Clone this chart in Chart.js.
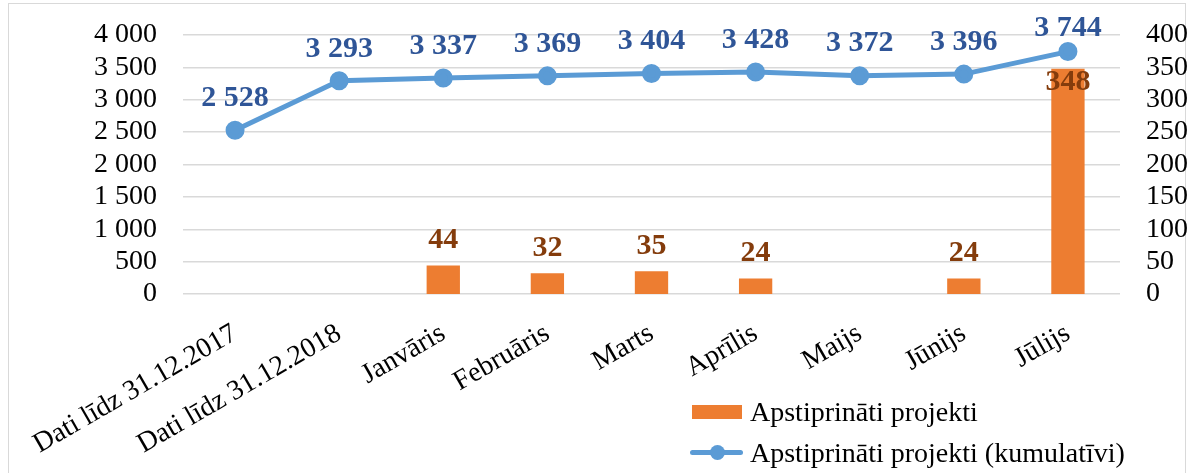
<!DOCTYPE html>
<html>
<head>
<meta charset="utf-8">
<script src="https://cdn.jsdelivr.net/npm/chart.js@4/dist/chart.umd.min.js"></script>
<style>
  html, body { margin: 0; padding: 0; background: #fff; }
  body { width: 1194px; height: 473px; position: relative; overflow: hidden; font-family: "Liberation Serif", "Times New Roman", serif; }
  #frame { position: absolute; left: 8px; top: 3px; width: 1176px; height: 490px; border: 1.5px solid #d9d9d9; }
  #wrap { position: absolute; left: 0; top: 0; width: 1194px; height: 473px; }
  .leg { position: absolute; font-size: 28px; line-height: 32px; color: #000; white-space: nowrap; }
  .sw-bar { position: absolute; left: 692px; top: 405px; width: 50px; height: 14px; background: #ED7D31; }
  .sw-line { position: absolute; left: 690px; top: 450px; width: 53px; height: 5px; border-radius: 3px; background: #5B9BD5; }
  .sw-dot { position: absolute; left: 710px; top: 445px; width: 15px; height: 15px; border-radius: 50%; background: #5B9BD5; }
</style>
</head>
<body>
<div id="frame"></div>
<div id="wrap"><canvas id="combochart"></canvas></div>
<div class="sw-bar"></div>
<div class="leg" style="left:750px; top:396px;">Apstiprināti projekti</div>
<div class="sw-line"></div>
<div class="sw-dot"></div>
<div class="leg" style="left:750px; top:437px;">Apstiprināti projekti (kumulatīvi)</div>
<script>
(function () {
 "use strict";

	/*----------------------------------------*/
	/*  data
	/*----------------------------------------*/
	var months = ["Dati līdz 31.12.2017", "Dati līdz 31.12.2018", "Janvāris", "Februāris",
		"Marts", "Aprīlis", "Maijs", "Jūnijs", "Jūlijs"];
	var approved = [null, null, 44, 32, 35, 24, -2, 24, 348];
	var cumulative = [2528, 3293, 3337, 3369, 3404, 3428, 3372, 3396, 3744];
	var leftTicks = [0, 500, 1000, 1500, 2000, 2500, 3000, 3500, 4000];
	var rightTicks = [0, 50, 100, 150, 200, 250, 300, 350, 400];

	function fmt(v) {
		return String(v).replace(/\B(?=(\d{3})+(?!\d))/g, ' ');
	}

	Chart.defaults.font.family = '"Liberation Serif", "Times New Roman", serif';
	Chart.defaults.font.size = 28;
	Chart.defaults.color = '#000';

	/*----------------------------------------*/
	/*  value labels
	/*----------------------------------------*/
	var valueLabels = {
		id: 'valueLabels',
		afterDatasetsDraw: function (chart) {
			var ctx = chart.ctx;
			var barMeta = chart.getDatasetMeta(0);
			var lineMeta = chart.getDatasetMeta(1);
			ctx.save();
			ctx.font = 'bold 30px "Liberation Serif", "Times New Roman", serif';
			ctx.textAlign = 'center';
			ctx.textBaseline = 'middle';
			barMeta.data.forEach(function (bar, i) {
				var v = approved[i];
				if (v == null || v <= 0) return;
				var y = bar.y - 25;
				var pt = lineMeta.data[i];
				// put it inside the bar if it would sit on the line point
				if (Math.abs(y - pt.y) < 22) y = bar.y + 14;
				ctx.fillStyle = '#843C0C';
				ctx.fillText(fmt(v), bar.x, y);
			});
			lineMeta.data.forEach(function (pt, i) {
				var y = Math.max(pt.y - 32, 28);
				ctx.fillStyle = '#2F5597';
				ctx.fillText(fmt(cumulative[i]), pt.x, y);
			});
			ctx.restore();
		}
	};

	/*----------------------------------------*/
	/*  combo chart
	/*----------------------------------------*/
	var ctx = document.getElementById("combochart");
	var combochart = new Chart(ctx, {
		data: {
			labels: months,
			datasets: [{
				type: 'bar',
				label: 'Apstiprināti projekti',
				data: approved,
				yAxisID: 'y1',
				backgroundColor: '#ED7D31',
				barPercentage: 0.32,
				categoryPercentage: 1,
				order: 2
			}, {
				type: 'line',
				label: 'Apstiprināti projekti (kumulatīvi)',
				data: cumulative,
				yAxisID: 'y',
				borderColor: '#5B9BD5',
				backgroundColor: '#5B9BD5',
				borderWidth: 5,
				pointRadius: 7,
				pointHoverRadius: 7,
				tension: 0,
				order: 1
			}]
		},
		options: {
			responsive: true,
			maintainAspectRatio: false,
			animation: false,
			layout: {
				padding: { left: 0, right: 0, top: 35, bottom: 0 }
			},
			plugins: {
				legend: { display: false },
				tooltip: { enabled: false }
			},
			scales: {
				x: {
					offset: true,
					grid: { display: false, drawTicks: false },
					border: { display: false },
					ticks: { autoSkip: false, minRotation: 30, maxRotation: 30, padding: 23 },
					afterFit: function (axis) {
						axis.height = 179;
						axis.paddingLeft = 0;
						axis.paddingRight = 0;
					}
				},
				y: {
					position: 'left',
					min: leftTicks[0],
					max: leftTicks[leftTicks.length - 1],
					afterBuildTicks: function (axis) {
						axis.ticks = leftTicks.map(function (v) { return { value: v }; });
					},
					grid: { color: '#d9d9d9', lineWidth: 1.5, drawTicks: false },
					border: { display: false },
					ticks: { autoSkip: false, padding: 26, callback: function (v) { return fmt(v); } },
					afterFit: function (axis) {
						axis.width = 183;
						axis.paddingTop = 0;
						axis.paddingBottom = 0;
					}
				},
				y1: {
					position: 'right',
					min: rightTicks[0],
					max: rightTicks[rightTicks.length - 1],
					afterBuildTicks: function (axis) {
						axis.ticks = rightTicks.map(function (v) { return { value: v }; });
					},
					grid: { display: false, drawTicks: false },
					border: { display: false },
					ticks: { autoSkip: false, padding: 26 },
					afterFit: function (axis) {
						axis.width = 74;
						axis.paddingTop = 0;
						axis.paddingBottom = 0;
					}
				}
			}
		},
		plugins: [valueLabels]
	});

})();
</script>
</body>
</html>
